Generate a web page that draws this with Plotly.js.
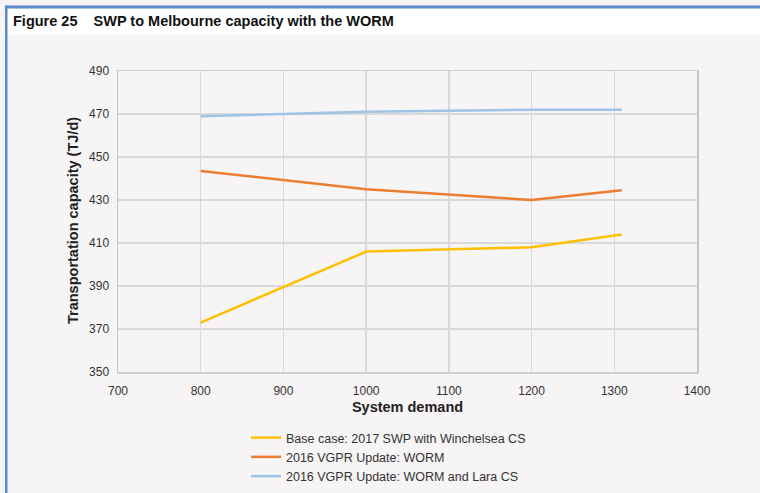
<!DOCTYPE html>
<html>
<head>
<meta charset="utf-8">
<script src="https://cdn.plot.ly/plotly-3.0.1.min.js"></script>
<style>
html,body{margin:0;padding:0;background:#f6f4f4;}
#chart{width:760px;height:493px;}
</style>
</head>
<body>
<div id="chart"></div>
<script>
const demand = [800, 1000, 1200, 1309];
const baseCase = [373, 406, 408, 414];
const worm = [443.5, 435, 430, 434.5];
const wormLara = [469, 471, 472, 472];
const seriesNames = [
  "Base case: 2017 SWP with Winchelsea CS",
  "2016 VGPR Update: WORM",
  "2016 VGPR Update: WORM and Lara CS"
];
const seriesColors = ["#FFC000", "#ED7D31", "#9DC3E6"];
const xTicks = [700, 800, 900, 1000, 1100, 1200, 1300, 1400];
const yTicks = [350, 370, 390, 410, 430, 450, 470, 490];

const W = 760, H = 493;
const L = 118, R = 63, T = 71, B = 121;
const pw = W - L - R, ph = H - T - B;
const px = v => (v - L) / pw;
const py = v => (H - B - v) / ph;

const traces = [baseCase, worm, wormLara].map((vals, i) => ({
  x: demand, y: vals, type: "scatter", mode: "lines",
  name: seriesNames[i],
  line: {color: seriesColors[i], width: 2.5}
}));

const layout = {
  width: W, height: H,
  margin: {l: L, r: R, t: T, b: B, pad: 0, autoexpand: false},
  paper_bgcolor: "#f6f4f4",
  plot_bgcolor: "#f6f4f4",
  font: {family: "Liberation Sans, Arial, sans-serif", size: 12, color: "#333"},
  showlegend: true,
  legend: {
    xref: "container", yref: "container",
    x: 246 / W, y: 1 - 423 / H, xanchor: "left", yanchor: "top",
    bgcolor: "rgba(0,0,0,0)", font: {size: 12.5, color: "#333"},
    tracegroupgap: 0, itemwidth: 30
  },
  xaxis: {
    range: [700, 1400], tickvals: xTicks, ticktext: xTicks.map(String),
    showgrid: true, gridcolor: "#d9d9d9", gridwidth: 1.5,
    showline: true, linecolor: "#cfcfcf", linewidth: 1.5, mirror: true,
    zeroline: false, ticks: "", ticklabelstandoff: 7,
    tickfont: {size: 12, color: "#333"},
    title: {text: "<b>System demand</b>", font: {size: 14.5, color: "#222"}, standoff: 5}
  },
  yaxis: {
    range: [350, 490], tickvals: yTicks, ticktext: yTicks.map(String),
    showgrid: true, gridcolor: "#d9d9d9", gridwidth: 1.5,
    showline: true, linecolor: "#c4c4c4", linewidth: 1.5, mirror: true,
    zeroline: false, ticks: "", ticklabelstandoff: 5,
    tickfont: {size: 12, color: "#333"}
  },
  shapes: [
    {type: "rect", xref: "paper", yref: "paper", layer: "below",
     x0: px(7), x1: px(760), y0: py(35), y1: py(8),
     fillcolor: "#ffffff", line: {width: 0}},
    {type: "rect", xref: "paper", yref: "paper", layer: "above",
     x0: px(5), x1: px(760), y0: py(8.5), y1: py(5.5),
     fillcolor: "#5b8bcb", line: {width: 0}},
    {type: "rect", xref: "paper", yref: "paper", layer: "above",
     x0: px(5), x1: px(7.5), y0: py(493), y1: py(5.5),
     fillcolor: "#5b8bcb", line: {width: 0}}
  ],
  annotations: [
    {xref: "paper", yref: "paper", x: px(11), y: py(21), xanchor: "left", yanchor: "middle",
     showarrow: false,
     text: "<b>Figure 25\u00a0\u00a0\u00a0\u00a0SWP to Melbourne capacity with the WORM</b>",
     font: {size: 14.5, color: "#111", family: "Liberation Sans, Arial, sans-serif"}},
    {xref: "paper", yref: "paper", x: px(73), y: py(221), xanchor: "center", yanchor: "middle",
     showarrow: false, textangle: -90,
     text: "<b>Transportation capacity (TJ/d)</b>",
     font: {size: 14.5, color: "#222", family: "Liberation Sans, Arial, sans-serif"}}
  ]
};

Plotly.newPlot("chart", traces, layout, {displayModeBar: false, staticPlot: true});
</script>
</body>
</html>
